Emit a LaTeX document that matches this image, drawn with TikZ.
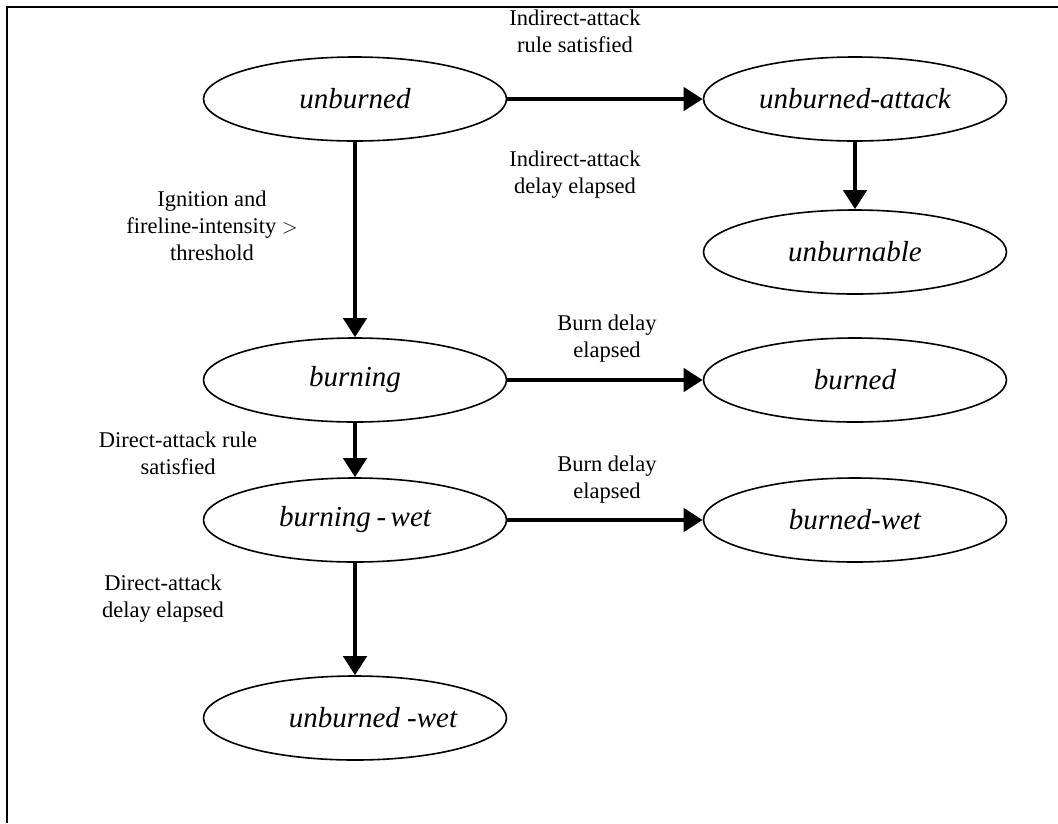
\documentclass[tikz,border=0pt]{standalone}
\usepackage{fontspec}
\setmainfont{Liberation Serif}
\usetikzlibrary{arrows.meta,shapes.geometric}
\begin{document}
\begin{tikzpicture}[x=1pt,y=-1pt,
  state/.style={ellipse,draw,line width=1.6pt,minimum width=303pt,minimum height=84pt,inner sep=0pt,font=\fontsize{29}{34}\selectfont\itshape},
  lab/.style={align=center,font=\fontsize{22.5}{27}\selectfont,inner sep=0pt},
  trans/.style={line width=4.2pt,-{Triangle[length=19pt,width=23pt]}}]
\useasboundingbox (0,0) rectangle (1058,823);
\draw[line width=2.5pt] (7,823) -- (7,7) -- (1058,7);
\node[state] (unb) at (355,99) {unburned};
\node[state] (ua) at (855,99) {unburned-attack};
\node[state] (unbl) at (855,252) {unburnable};
\node[state] (bur) at (355,380) {burning};
\node[state] (bd) at (855,380) {burned};
\node[state] (bw) at (355,520) {burning\hspace{0.2em}-\hspace{0.15em}wet};
\node[state] (bdw) at (855,520) {burned-wet};
\node[state] (uw) at (355,718) {\hspace*{36pt}unburned -wet};
\draw[trans] (unb) -- (ua);
\draw[trans] (ua) -- (unbl);
\draw[trans] (unb) -- (bur);
\draw[trans] (bur) -- (bd);
\draw[trans] (bur) -- (bw);
\draw[trans] (bw) -- (bdw);
\draw[trans] (bw) -- (uw);
\node[lab] (l1) at (575,31) {Indirect-attack\\rule satisfied};
\node[lab] (l2) at (575,175) {Indirect-attack\\delay elapsed};
\node[lab] (l3) at (212,226) {Ignition and\\fireline-intensity $>$\\threshold};
\node[lab] (l4) at (607,339) {Burn delay\\elapsed};
\node[lab] (l5) at (178,453) {Direct-attack rule\\satisfied};
\node[lab] (l6) at (607,480) {Burn delay\\elapsed};
\node[lab] (l7) at (163,599) {Direct-attack\\delay elapsed};
\end{tikzpicture}
\end{document}
